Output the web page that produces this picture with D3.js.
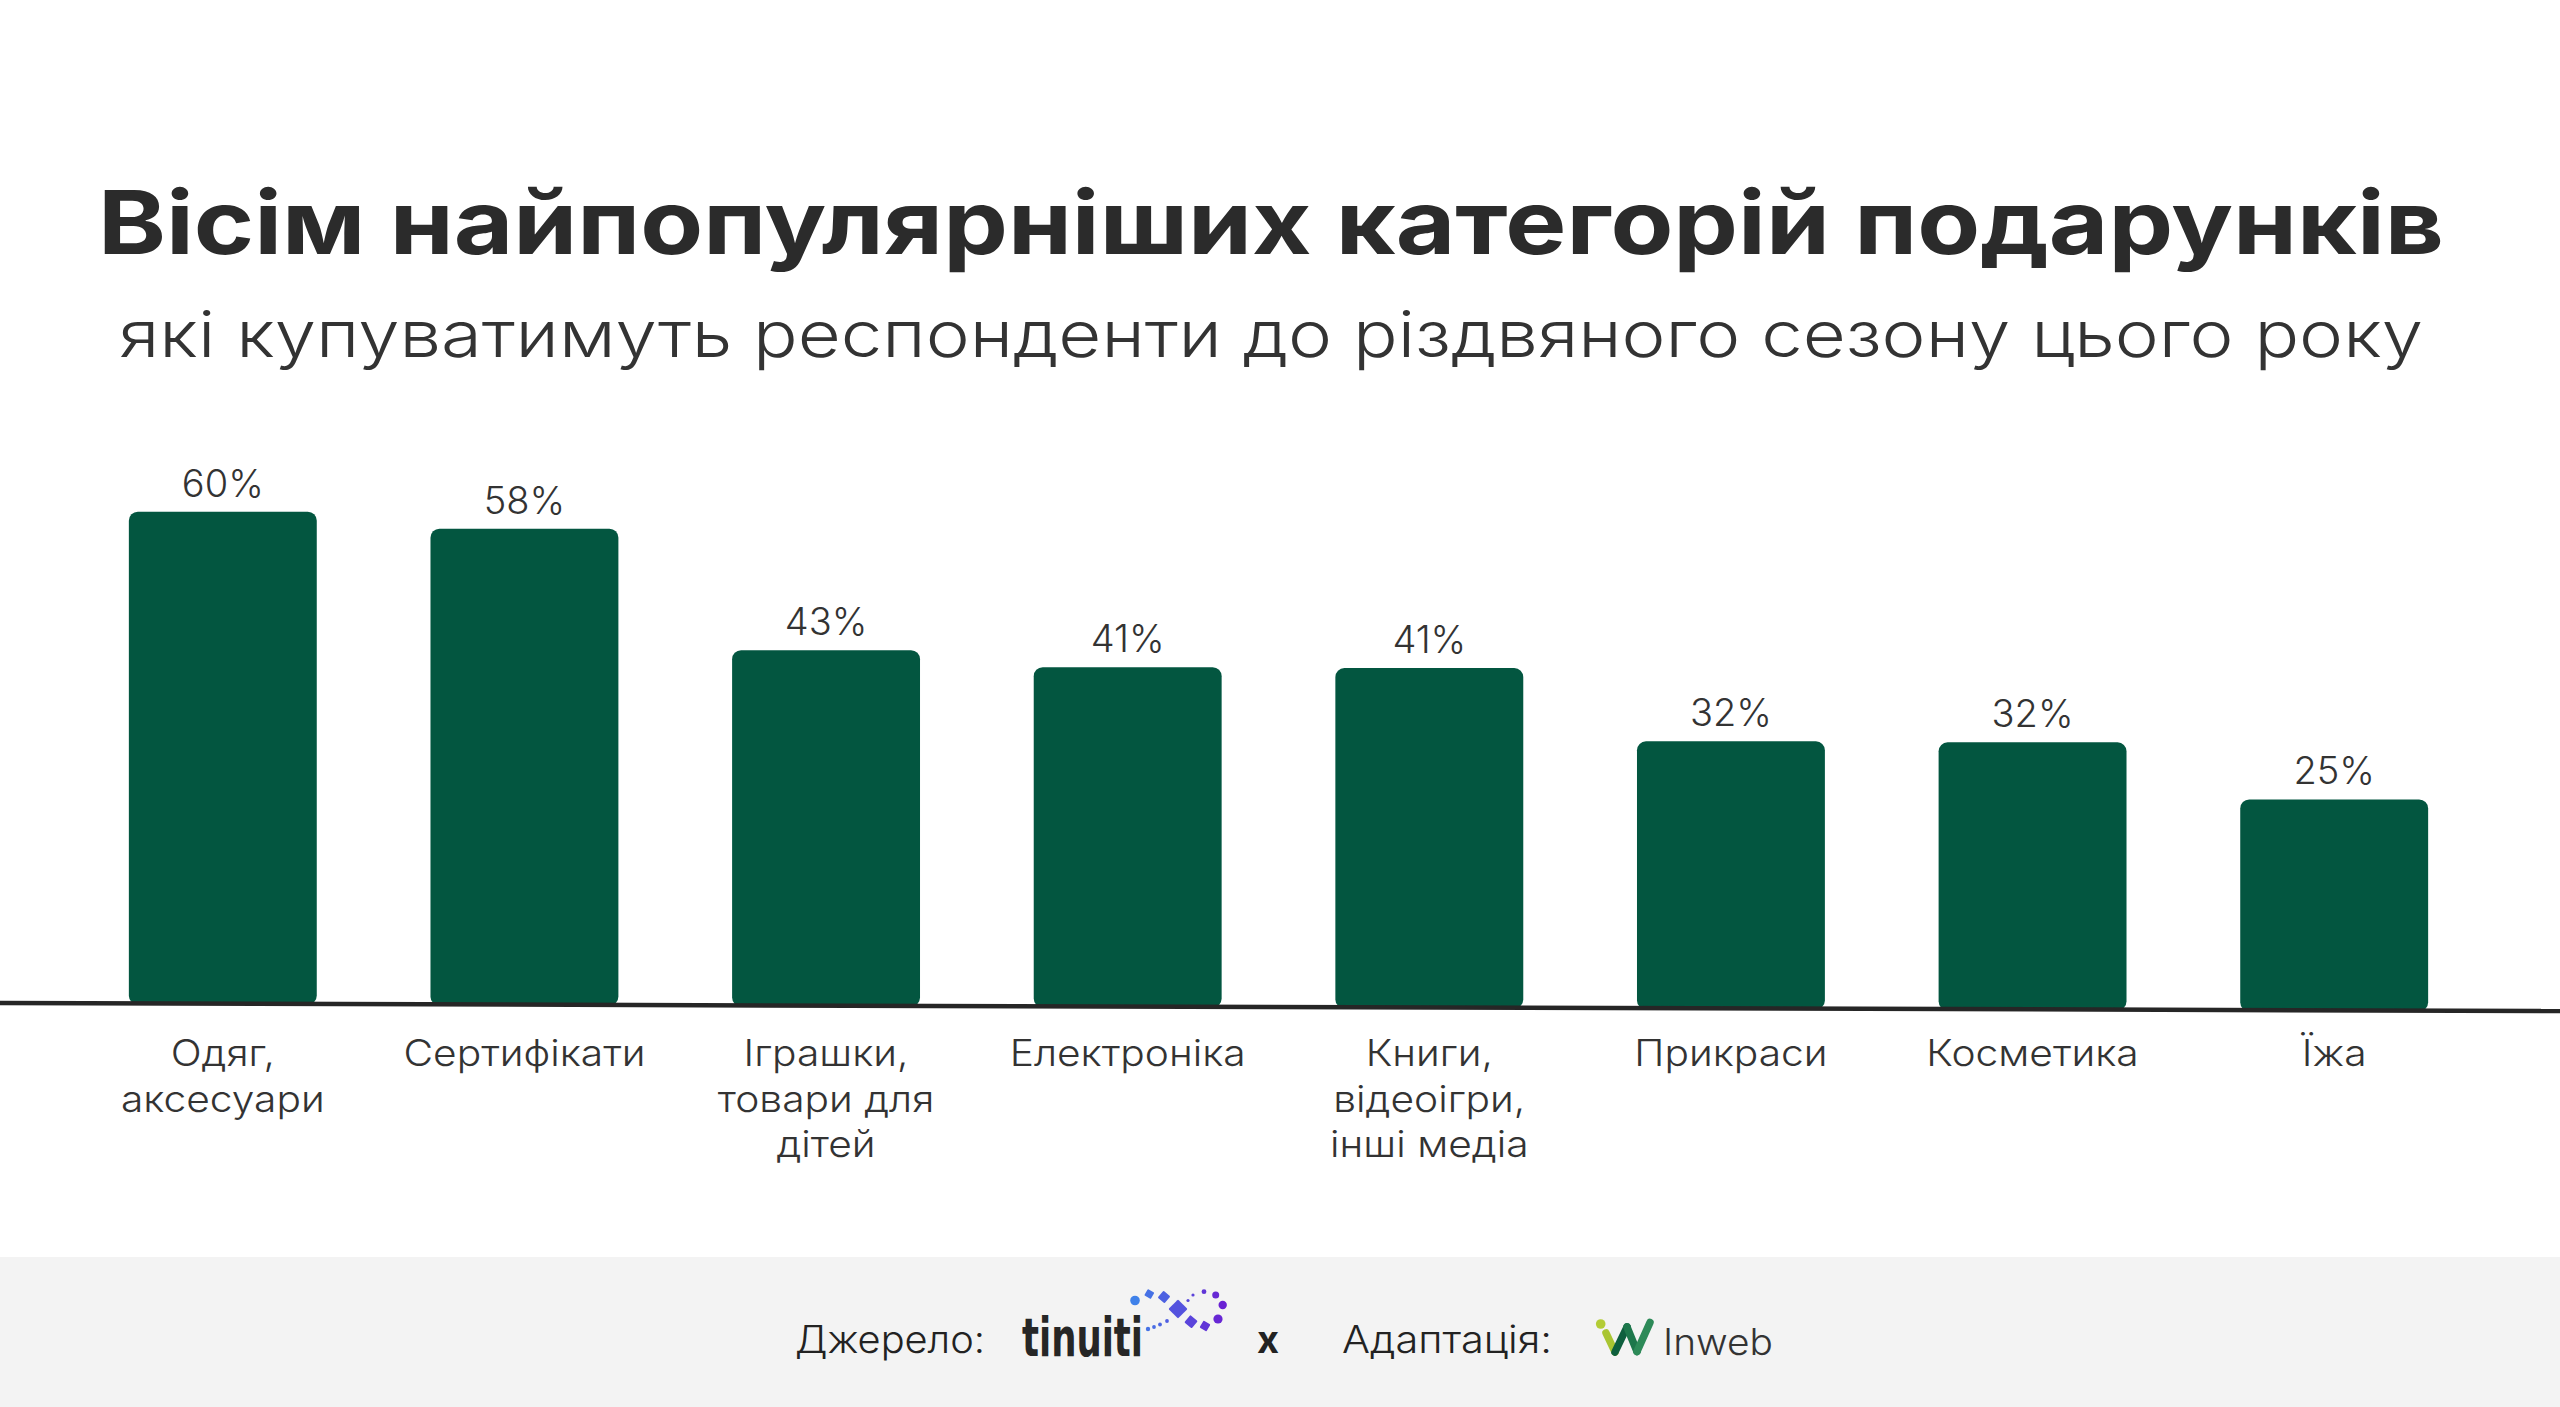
<!DOCTYPE html>
<html>
<head>
<meta charset="utf-8">
<script src="https://cdn.jsdelivr.net/npm/d3@7"></script>
<style>
  html, body { margin: 0; padding: 0; background: #ffffff; }
  svg { display: block; }
</style>
</head>
<body>
<svg id="chart" width="2560" height="1407"></svg>
<script>
// ---------------- DATA ----------------
const categories = [
  ["Одяг,", "аксесуари"],
  ["Сертифікати"],
  ["Іграшки,", "товари для", "дітей"],
  ["Електроніка"],
  ["Книги,", "відеоігри,", "інші медіа"],
  ["Прикраси"],
  ["Косметика"],
  ["Їжа"]
];
const values = [60, 58, 43, 41, 41, 32, 32, 25];
const valueLabels = ["60%", "58%", "43%", "41%", "41%", "32%", "32%", "25%"];
const titleText = "Вісім найпопулярніших категорій подарунків";
const subtitleText = "які купуватимуть респонденти до різдвяного сезону цього року";
const footerSource = "Джерело:";
const footerAdapt = "Адаптація:";
const footerX = "x";
const logoTinuiti = "tinuiti";
const logoInweb = "Inweb";

// ---------------- LAYOUT ----------------
const W = 2560, H = 1407;
const FONT = "Inter, 'Open Sans', 'Noto Sans', sans-serif";
const svg = d3.select("#chart");

svg.append("rect").attr("x", 0).attr("y", 0).attr("width", W).attr("height", H).attr("fill", "#ffffff");

// title
svg.append("text")
  .attr("x", 1271).attr("y", 254)
  .attr("text-anchor", "middle")
  .attr("font-family", FONT).attr("font-weight", 680).attr("font-size", 88)
  .attr("fill", "#2b2b2b")
  .attr("textLength", 2346).attr("lengthAdjust", "spacingAndGlyphs")
  .text(titleText);

// subtitle
svg.append("text")
  .attr("x", 1271).attr("y", 357)
  .attr("text-anchor", "middle")
  .attr("font-family", FONT).attr("font-weight", 300).attr("font-size", 64)
  .attr("fill", "#333333")
  .attr("textLength", 2304).attr("lengthAdjust", "spacingAndGlyphs")
  .text(subtitleText);

// scales
const x = d3.scaleBand()
  .domain(d3.range(categories.length))
  .range([72, 2485])
  .paddingInner(0.377)
  .paddingOuter(0.1885);

const hScale = d3.scaleLinear().domain([0, 60]).range([0, 482]);

const baseLeft = 1003, baseRight = 1011;
const baseY = d3.scaleLinear().domain([0, W]).range([baseLeft, baseRight]);
const barOffset = 10;

const g = svg.append("g");

g.selectAll("rect.bar")
  .data(values)
  .join("rect")
  .attr("class", "bar")
  .attr("x", (d, i) => x(i))
  .attr("width", x.bandwidth())
  .attr("y", (d, i) => baseY(x(i) + x.bandwidth() / 2) - barOffset - hScale(d))
  .attr("height", (d, i) => hScale(d) + barOffset + 1)
  .attr("rx", 9).attr("ry", 9)
  .attr("fill", "#035640");

svg.append("line")
  .attr("x1", 0).attr("y1", baseY(0))
  .attr("x2", W).attr("y2", baseY(W))
  .attr("stroke", "#262626").attr("stroke-width", 4.5);

// value labels
g.selectAll("text.val")
  .data(values)
  .join("text")
  .attr("class", "val")
  .attr("x", (d, i) => x(i) + x.bandwidth() / 2)
  .attr("y", (d, i) => baseY(x(i) + x.bandwidth() / 2) - barOffset - hScale(d) - 15)
  .attr("text-anchor", "middle")
  .attr("font-family", FONT).attr("font-weight", 300).attr("font-size", 38)
  .attr("fill", "#333333")
  .text((d, i) => valueLabels[i]);

// category labels (stretched a little to mimic the wider original face)
const stretch = 1.1;
categories.forEach((lines, i) => {
  const cx = x(i) + x.bandwidth() / 2;
  lines.forEach((l, j) => {
    const t = g.append("text")
      .attr("class", "cat")
      .attr("x", cx)
      .attr("y", 1066 + j * 45.5)
      .attr("text-anchor", "middle")
      .attr("font-family", FONT).attr("font-weight", 300).attr("font-size", 37)
      .attr("fill", "#333333")
      .text(l);
    const w = t.node().getComputedTextLength();
    t.attr("textLength", w * stretch).attr("lengthAdjust", "spacingAndGlyphs");
  });
});

// ---------------- FOOTER ----------------
svg.append("rect").attr("x", 0).attr("y", 1257).attr("width", W).attr("height", H - 1257).attr("fill", "#f3f3f3");

const fy = 1353;
svg.append("text")
  .attr("x", 795).attr("y", fy)
  .attr("font-family", FONT).attr("font-weight", 300).attr("font-size", 38)
  .attr("fill", "#222222")
  .attr("textLength", 190).attr("lengthAdjust", "spacingAndGlyphs")
  .text(footerSource);

// tinuiti logo
const tin = svg.append("g");
tin.append("text")
  .attr("x", 1022).attr("y", 1356)
  .attr("font-family", "'Liberation Sans Narrow', 'DejaVu Sans Condensed', 'Roboto', sans-serif")
  .attr("font-weight", 700).attr("font-size", 54)
  .attr("fill", "#262626")
  .attr("textLength", 121).attr("lengthAdjust", "spacingAndGlyphs")
  .text(logoTinuiti);
const dotColor = d3.scaleLinear().domain([1130, 1225]).range(["#3d86ea", "#6a1fd2"]).interpolate(d3.interpolateRgb);
const tinCircles = [
  [1135, 1300.5, 4.8], [1148, 1329, 2.2], [1154, 1327, 1.9], [1160, 1324.5, 1.9], [1167, 1321, 1.9],
  [1188, 1300.5, 1.6], [1193, 1295, 1.6], [1204, 1291.7, 2.4], [1215.7, 1295, 3.5], [1222.7, 1305, 4.2], [1218, 1319, 4.6]
];
tin.selectAll("circle").data(tinCircles).join("circle")
  .attr("cx", d => d[0]).attr("cy", d => d[1]).attr("r", d => d[2])
  .attr("fill", d => dotColor(d[0]));
const tinSquares = [
  [1149.3, 1294, 7.5, 30], [1164, 1297, 9, 40], [1178, 1309, 13.5, 45], [1191, 1321.7, 9.5, 40], [1205, 1326, 8, 30]
];
tin.selectAll("rect").data(tinSquares).join("rect")
  .attr("x", d => -d[2] / 2).attr("y", d => -d[2] / 2)
  .attr("width", d => d[2]).attr("height", d => d[2])
  .attr("rx", 1)
  .attr("transform", d => `translate(${d[0]},${d[1]}) rotate(${d[3]})`)
  .attr("fill", d => dotColor(d[0]));

svg.append("text")
  .attr("x", 1268).attr("y", fy)
  .attr("text-anchor", "middle")
  .attr("font-family", FONT).attr("font-weight", 700).attr("font-size", 38)
  .attr("fill", "#222222")
  .text(footerX);

svg.append("text")
  .attr("x", 1342).attr("y", fy)
  .attr("font-family", FONT).attr("font-weight", 300).attr("font-size", 38)
  .attr("fill", "#222222")
  .attr("textLength", 210).attr("lengthAdjust", "spacingAndGlyphs")
  .text(footerAdapt);

// Inweb logo
const inw = svg.append("g");
inw.append("circle").attr("cx", 1600.7).attr("cy", 1324).attr("r", 4.8).attr("fill", "#b3cc35");
const wSegs = [
  [[1606, 1333], [1615, 1352], "#a9c532"],
  [[1615, 1352], [1627, 1327], "#0e5f3e"],
  [[1627, 1327], [1637, 1351.5], "#1d774b"],
  [[1637, 1351.5], [1650, 1322.5], "#2d8a58"]
];
inw.selectAll("line").data(wSegs).join("line")
  .attr("x1", d => d[0][0]).attr("y1", d => d[0][1])
  .attr("x2", d => d[1][0]).attr("y2", d => d[1][1])
  .attr("stroke", d => d[2]).attr("stroke-width", 7.5).attr("stroke-linecap", "round");
inw.append("text")
  .attr("x", 1663).attr("y", 1355)
  .attr("font-family", FONT).attr("font-weight", 300).attr("font-size", 37)
  .attr("fill", "#333333")
  .attr("textLength", 110).attr("lengthAdjust", "spacingAndGlyphs")
  .text(logoInweb);
</script>
</body>
</html>
